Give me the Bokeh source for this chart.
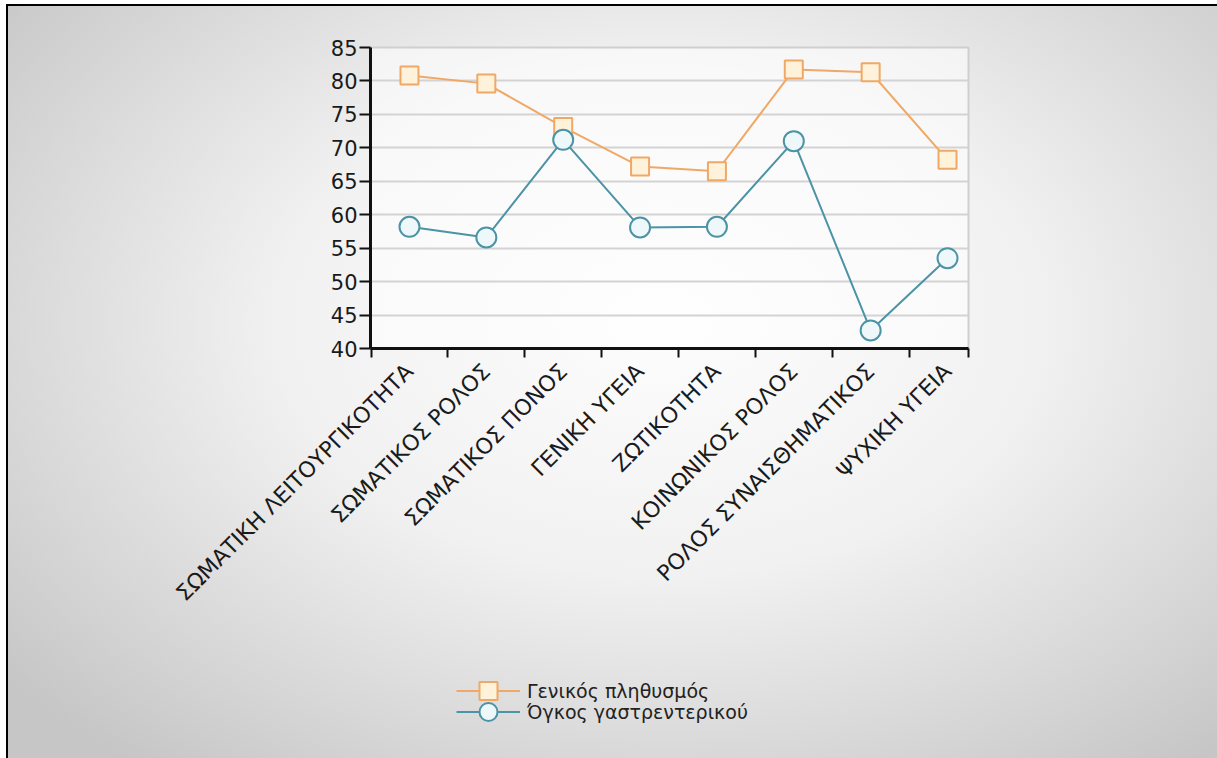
import math

from bokeh.embed import file_html
from bokeh.layouts import column
from bokeh.models import FixedTicker, Legend, LegendItem, Range1d
from bokeh.plotting import figure
from bokeh.resources import INLINE

# Quality-of-life domains (x axis)
categories = [
    "ΣΩΜΑΤΙΚΗ ΛΕΙΤΟΥΡΓΙΚΟΤΗΤΑ",
    "ΣΩΜΑΤΙΚΟΣ ΡΟΛΟΣ",
    "ΣΩΜΑΤΙΚΟΣ ΠΟΝΟΣ",
    "ΓΕΝΙΚΗ ΥΓΕΙΑ",
    "ΖΩΤΙΚΟΤΗΤΑ",
    "ΚΟΙΝΩΝΙΚΟΣ ΡΟΛΟΣ",
    "ΡΟΛΟΣ ΣΥΝΑΙΣΘΗΜΑΤΙΚΟΣ",
    "ΨΥΧΙΚΗ ΥΓΕΙΑ",
]

# Mean scores per group
general_population = [80.8, 79.6, 73.1, 67.2, 66.5, 81.7, 81.3, 68.2]
gi_cancer = [58.2, 56.6, 71.2, 58.1, 58.2, 71.0, 42.7, 53.5]

series_names = ["Γενικός πληθυσμός", "Όγκος γαστρεντερικού"]
y_ticks = [40, 45, 50, 55, 60, 65, 70, 75, 80, 85]

x = list(range(len(categories)))
boundaries = [-0.5] + [i + 0.5 for i in range(len(categories) - 1)] + [7.27]

ORANGE = "#f0a866"
ORANGE_FILL = "#fff2da"
TEAL = "#4b93a5"
TEAL_FILL = "#eef8fb"
FONT = "DejaVu Sans"

line1 = dict(line_color=ORANGE, line_width=2)
mark1 = dict(marker="square", size=18, fill_color=ORANGE_FILL, line_color=ORANGE, line_width=2)
line2 = dict(line_color=TEAL, line_width=2)
mark2 = dict(marker="circle", size=20, fill_color=TEAL_FILL, line_color=TEAL, line_width=2)

# ---- main chart -------------------------------------------------------------
p = figure(
    frame_width=598,
    frame_height=301,
    min_border_left=370,
    min_border_right=249,
    min_border_top=47,
    min_border_bottom=312,
    x_range=Range1d(-0.507, 7.273),
    y_range=Range1d(40, 85),
    output_backend="svg",
    toolbar_location=None,
    border_fill_color=None,
    background_fill_color="white",
    background_fill_alpha=0.55,
    outline_line_color="#cfcfcf",
    outline_line_width=2,
)

p.xgrid.visible = False
p.ygrid.ticker = FixedTicker(ticks=y_ticks)
p.ygrid.grid_line_color = "#d3d3d3"
p.ygrid.grid_line_width = 2

yax = p.yaxis[0]
yax.ticker = FixedTicker(ticks=y_ticks, minor_ticks=[])
yax.axis_line_width = 3
yax.axis_line_color = "#111111"
yax.major_tick_out = 11
yax.major_tick_in = 0
yax.major_tick_line_width = 2
yax.major_tick_line_color = "#111111"
yax.major_label_standoff = 2
yax.major_label_text_font = FONT
yax.major_label_text_font_size = "21px"
yax.major_label_text_color = "#1a1a1a"

# labels at category centres, tick marks between categories
xax = p.xaxis[0]
xax.ticker = FixedTicker(ticks=x, minor_ticks=boundaries)
xax.major_label_overrides = {i: c for i, c in enumerate(categories)}
xax.axis_line_width = 3
xax.axis_line_color = "#111111"
xax.major_tick_line_color = None
xax.major_tick_out = 0
xax.major_tick_in = 0
xax.minor_tick_out = 9
xax.minor_tick_in = 0
xax.minor_tick_line_width = 2
xax.minor_tick_line_color = "#111111"
xax.major_label_orientation = math.pi / 4
xax.major_label_standoff = 10
xax.major_label_text_font = FONT
xax.major_label_text_font_size = "22px"
xax.major_label_text_color = "#1a1a1a"

p.line(x, general_population, **line1)
p.scatter(x, general_population, **mark1)
p.line(x, gi_cancer, **line2)
p.scatter(x, gi_cancer, **mark2)

# ---- legend strip under the chart ------------------------------------------
# The strip's y range (0..1) lies below every score, so its series renderers
# only supply the legend swatches.
lg = figure(
    frame_width=1217,
    frame_height=98,
    min_border=0,
    x_range=Range1d(0, 1),
    y_range=Range1d(0, 1),
    x_axis_location=None,
    y_axis_location=None,
    output_backend="svg",
    toolbar_location=None,
    border_fill_color=None,
    background_fill_color=None,
    outline_line_color=None,
)
lg.grid.visible = False
k1 = [lg.line(x, general_population, **line1), lg.scatter(x, general_population, **mark1)]
k2 = [lg.line(x, gi_cancer, **line2), lg.scatter(x, gi_cancer, **mark2)]

# One single-entry legend per series: tall glyph boxes give full-size
# markers while the two rows stay close together.
legend_style = dict(
    orientation="vertical",
    border_line_color=None,
    background_fill_alpha=0,
    glyph_width=64,
    glyph_height=45,
    label_height=21,
    spacing=0,
    padding=0,
    margin=0,
    label_standoff=7,
    label_text_font=FONT,
    label_text_font_size="19px",
    label_text_color="#222222",
)
for name, rends, loc in [(series_names[0], k1, (456, 45)), (series_names[1], k2, (456, 24))]:
    lg.add_layout(Legend(items=[LegendItem(label=name, renderers=rends)], location=loc, **legend_style))

page = column(
    p,
    lg,
    spacing=0,
    styles={
        "background": (
            "linear-gradient(#000,#000) 6px 4px / 1211px 2px no-repeat, "
            "linear-gradient(#000,#000) 6px 4px / 2px 754px no-repeat, "
            "radial-gradient(ellipse 70% 75% at 54% 42%, #fdfdfd 0%, #f1f1f1 45%, #d2d2d2 85%, #c6c6c6 100%) "
            "8px 6px / 1209px 752px no-repeat, #ffffff"
        )
    },
)

open("out.html", "w").write(file_html(page, INLINE))
